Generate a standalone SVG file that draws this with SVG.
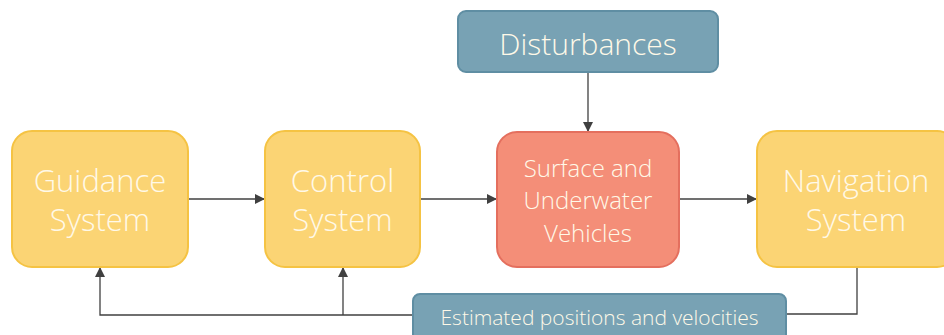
<svg xmlns="http://www.w3.org/2000/svg" width="944" height="335" viewBox="0 0 944 335">
<defs>
<marker id="ah" viewBox="0 0 10 10" refX="10" refY="5" markerWidth="10" markerHeight="10" markerUnits="userSpaceOnUse" orient="auto">
<path d="M0,0 L10,5 L0,10 Z" fill="#404040"/>
</marker>
</defs>
<style>
.y{fill:#FBD474;stroke:#F5C343;stroke-width:2}
.r{fill:#F48E78;stroke:#E46F5E;stroke-width:2}
.b{fill:#78A2B4;stroke:#5F8EA3;stroke-width:2}
.t{font-family:"Open Sans","Liberation Sans",sans-serif;font-weight:300;fill:#FFF9E8;text-anchor:middle}
.c{fill:none;stroke:#404040;stroke-width:1.3}
</style>
<g id="connectors">
<path class="c" d="M188,199 H265" marker-end="url(#ah)"/>
<path class="c" d="M420,199 H497" marker-end="url(#ah)"/>
<path class="c" d="M679,199 H757" marker-end="url(#ah)"/>
<path class="c" d="M588,72 V132" marker-end="url(#ah)"/>
<path class="c" d="M857,267 V314 H786"/>
<path class="c" d="M413,315 H100 V267" marker-end="url(#ah)"/>
<path class="c" d="M343,315 V267" marker-end="url(#ah)"/>
</g>
<g id="guidance">
<rect class="y" x="12" y="131" width="176" height="136" rx="20"/>
<text class="t" x="100" y="192" font-size="31">Guidance</text>
<text class="t" x="100" y="231" font-size="31">System</text>
</g>
<g id="control">
<rect class="y" x="265" y="131" width="155" height="136" rx="20"/>
<text class="t" x="342.5" y="192" font-size="31">Control</text>
<text class="t" x="342.5" y="231" font-size="31">System</text>
</g>
<g id="vehicles">
<rect class="r" x="497" y="132" width="182" height="135" rx="20"/>
<text class="t" x="588" y="177" font-size="24">Surface and</text>
<text class="t" x="588" y="209" font-size="24">Underwater</text>
<text class="t" x="588" y="242" font-size="24">Vehicles</text>
</g>
<g id="navigation">
<rect class="y" x="757" y="131" width="200" height="136" rx="20"/>
<text class="t" x="856" y="192" font-size="31">Navigation</text>
<text class="t" x="856" y="231" font-size="31">System</text>
</g>
<g id="disturbances">
<rect class="b" x="458" y="11" width="260" height="61" rx="8"/>
<text class="t" x="588" y="55" font-size="30">Disturbances</text>
</g>
<g id="estimated">
<rect class="b" x="413" y="294" width="373" height="50" rx="7"/>
<text class="t" x="599.5" y="325" font-size="21">Estimated positions and velocities</text>
</g>
</svg>
